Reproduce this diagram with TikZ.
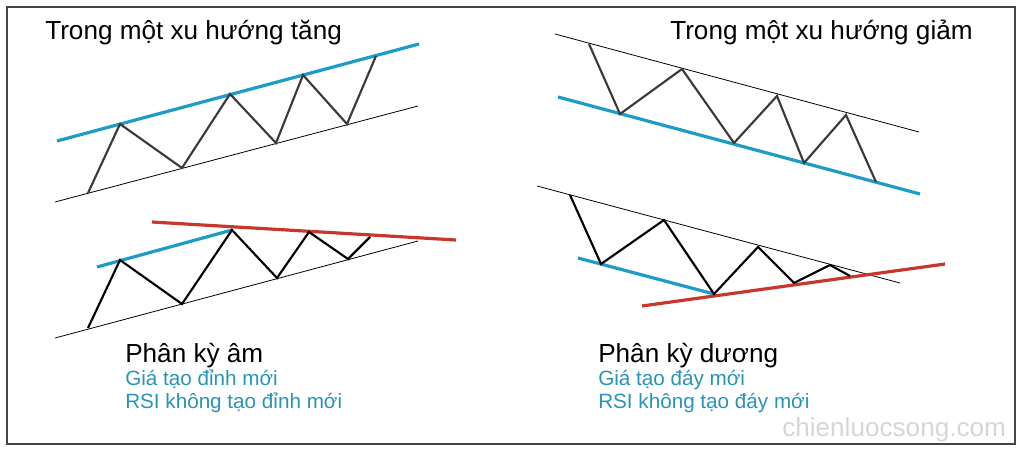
\documentclass[tikz,border=0pt]{standalone}
\usepackage{fontspec}
\setmainfont{Liberation Sans}
\usetikzlibrary{positioning}
\usetikzlibrary{calc}

\definecolor{trendblue}{HTML}{1E9CC8}
\definecolor{noteblue}{HTML}{2A93B8}
\definecolor{trendred}{HTML}{C8372D}
\definecolor{wavegray}{HTML}{3A3A3A}
\definecolor{framegray}{HTML}{444444}
\definecolor{markgray}{HTML}{D6D6D6}

\begin{document}
\begin{tikzpicture}[
			x=0.75pt, y=-0.75pt,
			frame/.style={draw=framegray, line width=1.1pt},
			channel/.style={draw=black, line width=0.6pt},
			bluetrend/.style={draw=trendblue, line width=2.4pt},
			redtrend/.style={draw=trendred, line width=2.4pt},
			wave/.style={draw=wavegray, line width=1.6pt, line join=miter},
			darkwave/.style={draw=black, line width=1.6pt, line join=miter},
			title/.style={anchor=base west, inner sep=0pt, font=\fontsize{19.6}{22}\selectfont},
			note/.style={anchor=base west, inner sep=0pt, text=noteblue, font=\fontsize{15.5}{17}\selectfont},
			watermark/.style={anchor=base west, inner sep=0pt, text=markgray, font=\fontsize{19.6}{22}\selectfont},
			]
			\useasboundingbox (0,0) rectangle (1024,449);
			\draw[frame] (7,7) rectangle (1015,444);
			
			% xu huong tang
			\node[title] (t_up) at (45,40) {Trong một xu hướng tăng};
			\draw[channel]   (55,202) -- (418,106);
			\draw[bluetrend] (57,141) -- (419,44);
			\draw[wave] (88,193) -- (120,124) -- (182,168) -- (230,94) -- (276,143) -- (303,75) -- (347,124) -- (376,56);
			
			% xu huong giam
			\node[title] (t_down) at (670,40) {Trong một xu hướng giảm};
			\draw[channel]   (555,34) -- (919,132);
			\draw[bluetrend] (558,97) -- (920,194);
			\draw[wave] (589,44) -- (620,114) -- (682,69) -- (734,143) -- (777,96) -- (804,163) -- (846,115) -- (876,182);
			
			% phan ky am
			\draw[channel]   (55,338) -- (418,241);
			\draw[redtrend]  (152,222) -- (456,240);
			\draw[bluetrend] (97,267) -- (232,230);
			\draw[darkwave] (88,328) -- (120,260) -- (182,304) -- (232,230) -- (277,278) -- (309,232) -- (348,259) -- (370,237);
			\node[title] (t_neg) at (125,362) {Phân kỳ âm};
			\node[note]  (n_neg1) at (125,385) {Giá tạo đỉnh mới};
			\node[note]  (n_neg2) at (125,408) {RSI không tạo đỉnh mới};
			
			% phan ky duong
			\draw[channel]   (537,186) -- (900,283);
			\draw[bluetrend] (578,258) -- (714,294);
			\draw[redtrend]  (642,306) -- (945,264);
			\draw[darkwave] (570,195) -- (601,264) -- (664,220) -- (714,294) -- (758,247) -- (794,283) -- (830,265) -- (850,276);
			\node[title] (t_pos) at (598,362) {Phân kỳ dương};
			\node[note]  (n_pos1) at (598,385) {Giá tạo đáy mới};
			\node[note]  (n_pos2) at (598,408) {RSI không tạo đáy mới};
			
			\node[watermark] (site) at (782,436) {chienluocsong.com};
			
			\end{tikzpicture}
\end{document}
